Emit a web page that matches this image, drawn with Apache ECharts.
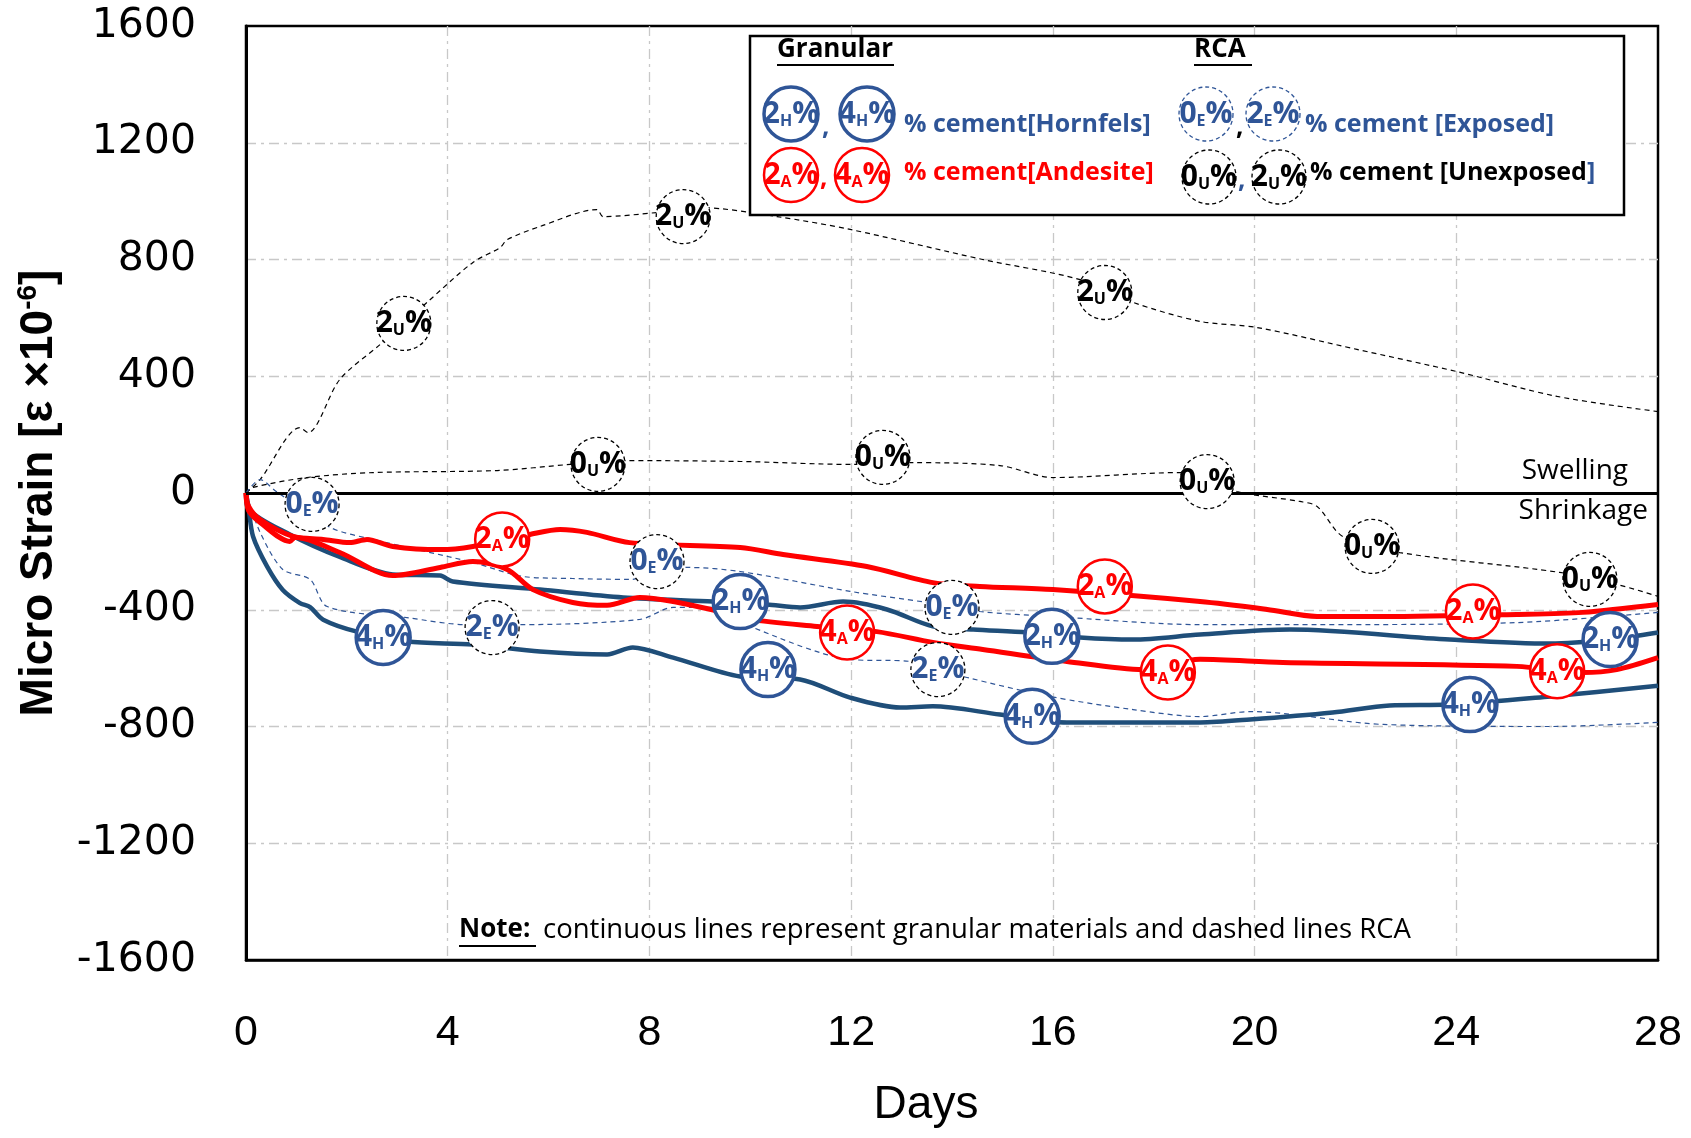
<!DOCTYPE html>
<html>
<head>
<meta charset="utf-8">
<script src="https://cdn.jsdelivr.net/npm/echarts@6/dist/echarts.min.js"></script>
<style>
html,body{margin:0;padding:0;background:#fff}
#chart{width:1691px;height:1138px}
</style>
</head>
<body>
<div id="chart"></div>
<script>
// [day, micro strain]
var strain2U = [[0,0],[0.28,46],[1.07,224],[1.23,207],[1.86,389],[2.66,509],[3.59,653],[4.5,790],[5.04,841],[5.18,868],[5.83,913],[6.96,971],[7.08,947],[8.15,961],[9.0,978],[10.53,947],[11.98,903],[14.61,800],[16.54,731],[17.59,653],[18.92,588],[20.05,567],[22.03,492],[24.01,416],[26.0,331],[28,279]];
var strain0U = [[0,0],[0.14,19],[1.21,53],[2.52,70],[4.98,77],[6.43,98],[7.56,111],[9.8,108],[11.98,98],[13.23,104],[14.95,94],[16.0,53],[18.52,70],[19.65,5],[20.9,-29],[21.24,-46],[21.75,-149],[22.88,-204],[26.05,-272],[27.18,-313],[28,-354]];
var strain0E = [[0,0],[0.28,46],[0.6,5],[1.67,-118],[2.52,-159],[4.5,-238],[5.49,-286],[6.48,-293],[7.61,-296],[8.75,-255],[9.8,-269],[11.98,-337],[13.5,-375],[14.55,-406],[16.0,-423],[18.92,-451],[21.24,-451],[25.2,-444],[28,-409]];
var strain2E = [[0,0],[0.28,-135],[0.73,-262],[1.27,-296],[1.61,-389],[3.19,-427],[4.38,-451],[5.43,-451],[7.81,-433],[8.47,-392],[9.26,-392],[9.99,-457],[11.98,-570],[13.17,-577],[14.3,-632],[15.94,-697],[17.59,-742],[18.92,-766],[19.91,-749],[22.55,-793],[25.86,-800],[28,-786]];
var strain2H = [[0,0],[0.05,-55],[0.87,-142],[1.86,-219],[2.91,-279],[3.85,-283],[4.1,-303],[5.83,-331],[7.48,-358],[9.26,-372],[10.33,-382],[10.99,-392],[11.84,-372],[12.71,-399],[13.62,-457],[14.42,-468],[15.49,-478],[16.54,-495],[17.59,-502],[18.92,-485],[20.7,-468],[23.87,-502],[25.86,-516],[27.05,-502],[28,-478]];
var strain4H = [[0,0],[0.05,-50],[0.14,-149],[0.42,-252],[0.73,-332],[1.07,-377],[1.27,-391],[1.53,-434],[2.2,-475],[3.19,-509],[4.5,-519],[5.83,-543],[7.16,-553],[7.67,-529],[8.47,-564],[9.8,-629],[10.99,-639],[11.98,-701],[12.97,-735],[13.62,-731],[14.95,-759],[16.28,-786],[18.92,-786],[19.91,-776],[21.55,-752],[22.68,-728],[23.87,-725],[25.86,-697],[28,-660]];
var strain2A = [[0,0],[0.05,-45],[0.28,-91],[0.93,-149],[1.53,-159],[2.06,-170],[2.4,-159],[2.91,-183],[3.85,-194],[4.5,-183],[5.63,-142],[6.23,-125],[6.76,-135],[7.61,-170],[9.8,-187],[10.65,-211],[12.31,-252],[13.62,-307],[14.55,-320],[16.0,-331],[18.92,-372],[20.25,-399],[21.24,-423],[22.55,-423],[25.2,-416],[26.51,-409],[28,-382]];
var strain4A = [[0,0],[0.05,-60],[0.28,-101],[0.87,-166],[0.97,-152],[1.86,-204],[2.91,-283],[3.85,-255],[4.5,-235],[5.18,-262],[5.69,-331],[6.48,-375],[7.16,-385],[7.81,-358],[8.47,-372],[9.46,-409],[9.99,-433],[11.32,-457],[12.51,-475],[13.62,-512],[14.61,-536],[16.28,-577],[17.79,-605],[18.92,-570],[20.56,-581],[25.2,-594],[26.51,-615],[27.18,-605],[28,-564]];

// label badge positions on the curves
var mark2U = [[3.13,581],[8.67,947],[17.03,687]];
var mark0U = [[6.98,98],[12.63,122],[19.06,39],[22.33,-183],[26.65,-296]];
var mark0E = [[1.31,-39],[8.15,-235],[14.0,-392]];
var mark2E = [[4.88,-461],[13.72,-605]];
var mark2H = [[9.8,-372],[15.98,-491],[27.05,-502]];
var mark4H = [[2.72,-495],[10.35,-605],[15.59,-765],[24.27,-725]];
var mark2A = [[5.08,-159],[17.03,-320],[24.33,-406]];
var mark4A = [[11.92,-478],[18.28,-615],[26.0,-611]];

var BLUE_LINE = '#1F4E79';
var BLUE = '#2F5597';
var RED = '#FF0000';
var BADGE_FONT = '"Open Sans", sans-serif';

function lineSeries(name, data, color, width, dashed) {
	return {
		name: name,
		type: 'line',
		data: data,
		smooth: 0.3,
		symbol: 'none',
		silent: true,
		z: dashed ? 3 : 4,
		lineStyle: {color: color, width: width, type: dashed ? [5, 4] : 'solid'}
	};
}

function badgeRich(textColor, key) {
	var r = {};
	r.n = {fontSize: 30, fontWeight: 'bold', fontFamily: BADGE_FONT};
	r.s = {fontSize: 16, fontWeight: 'bold', fontFamily: BADGE_FONT, padding: [14, 0, 0, 0]};
	r.n[key] = textColor;
	r.s[key] = textColor;
	return r;
}

function badgeSeries(data, num, sub, textColor, borderColor, borderWidth, dashed) {
	return {
		type: 'scatter',
		data: data,
		symbol: 'circle',
		symbolSize: 54,
		silent: true,
		z: 10,
		itemStyle: {color: '#fff', opacity: 1, borderColor: borderColor, borderWidth: borderWidth, borderType: dashed ? [4, 3] : 'solid'},
		label: {
			show: true,
			position: 'inside',
			formatter: '{n|' + num + '}{s|' + sub + '}{n|%}',
			rich: badgeRich(textColor, 'color')
		}
	};
}

function legendBadge(cx, cy, num, sub, textColor, stroke, lw, dashed) {
	return [
		{type: 'circle', z: 21, shape: {cx: cx, cy: cy, r: 27}, style: {fill: '#fff', stroke: stroke, lineWidth: lw, lineDash: dashed ? [4, 3] : null}},
		{type: 'text', z: 22, x: cx, y: cy, style: {
			text: '{n|' + num + '}{s|' + sub + '}{n|%}',
			align: 'center', verticalAlign: 'middle', textAlign: 'center', textVerticalAlign: 'middle',
			rich: badgeRich(textColor, 'fill')
		}}
	];
}

function legendText(x, y, text, color, size, weight) {
	return {type: 'text', z: 22, x: x, y: y, style: {
		text: text, fill: color, font: (weight || 'bold') + ' ' + size + 'px "Open Sans", sans-serif',
		align: 'left', verticalAlign: 'middle', textAlign: 'left', textVerticalAlign: 'middle'
	}};
}

function underline(x1, x2, y) {
	return {type: 'line', z: 22, shape: {x1: x1, y1: y, x2: x2, y2: y}, style: {stroke: '#000', lineWidth: 2}};
}

var chart = echarts.init(document.getElementById('chart'));

var gridLine = {show: true, showMinLine: false, showMaxLine: false, lineStyle: {color: '#c8c8c8', width: 1.3, type: [10, 5, 3, 5]}};

var zeroLine = lineSeries('0U', strain0U, '#000', 1.2, true);
zeroLine.markLine = {
	symbol: 'none', silent: true, label: {show: false},
	lineStyle: {color: '#000', width: 3, type: 'solid'},
	data: [{yAxis: 0}]
};

var legendItems = [
	{type: 'rect', z: 20, shape: {x: 750, y: 36, width: 874, height: 179}, style: {fill: '#fff', stroke: '#000', lineWidth: 2.5}},
	legendText(777, 50, 'Granular', '#000', 26),
	underline(777, 894, 65),
	legendText(1194, 50, 'RCA', '#000', 26),
	underline(1194, 1252, 65),
	legendText(822, 128, ',', BLUE, 26),
	legendText(904, 125, '% cement[Hornfels]', BLUE, 25),
	legendText(820, 179, ',', RED, 26),
	legendText(904, 173, '% cement[Andesite]', RED, 25),
	legendText(1236, 128, ',', '#000', 26),
	legendText(1305, 125, '% cement [Exposed]', BLUE, 25),
	legendText(1238, 181, ',', BLUE, 26),
	{type: 'text', z: 22, x: 1310, y: 173, style: {
		text: '{k|% cement [Unexposed}{b|]}',
		align: 'left', verticalAlign: 'middle', textAlign: 'left', textVerticalAlign: 'middle',
		rich: {
			k: {fontSize: 25, fontWeight: 'bold', fill: '#000', fontFamily: BADGE_FONT},
			b: {fontSize: 25, fontWeight: 'bold', fill: BLUE, fontFamily: BADGE_FONT}
		}
	}}
].concat(
	legendBadge(791, 114, '2', 'H', BLUE, BLUE, 3.5, false),
	legendBadge(867, 114, '4', 'H', BLUE, BLUE, 3.5, false),
	legendBadge(791, 175, '2', 'A', RED, RED, 2.5, false),
	legendBadge(862, 175, '4', 'A', RED, RED, 2.5, false),
	legendBadge(1206, 114, '0', 'E', BLUE, BLUE, 1.3, true),
	legendBadge(1273, 114, '2', 'E', BLUE, BLUE, 1.3, true),
	legendBadge(1209, 177, '0', 'U', '#000', '#000', 1.3, true),
	legendBadge(1279, 177, '2', 'U', '#000', '#000', 1.3, true)
);

var otherText = [
	legendText(459, 930, 'Note:', '#000', 26),
	underline(459, 536, 946),
	legendText(543, 930, 'continuous lines represent granular materials and dashed lines RCA', '#000', 27.5, 'normal'),
	{type: 'text', z: 22, x: 1628, y: 471, style: {text: 'Swelling', fill: '#000', font: '28px "Open Sans", sans-serif', align: 'right', verticalAlign: 'middle', textAlign: 'right', textVerticalAlign: 'middle'}},
	{type: 'text', z: 22, x: 1648, y: 511, style: {text: 'Shrinkage', fill: '#000', font: '28px "Open Sans", sans-serif', align: 'right', verticalAlign: 'middle', textAlign: 'right', textVerticalAlign: 'middle'}}
];

chart.setOption({
	backgroundColor: '#fff',
	animation: false,
	grid: {left: 246, right: 33, top: 26, bottom: 178, containLabel: false, outerBoundsMode: 'none', show: true, borderColor: '#000', borderWidth: 2.5},
	xAxis: {
		type: 'value', min: 0, max: 28, interval: 4,
		name: 'Days', nameLocation: 'middle', nameGap: 122,
		nameTextStyle: {fontSize: 46, fontFamily: '"Liberation Sans Narrow", sans-serif', color: '#000', padding: [0, 52, 0, 0]},
		axisLine: {onZero: false, lineStyle: {color: '#000', width: 2.5}},
		axisTick: {show: false},
		axisLabel: {fontSize: 43, fontFamily: '"Liberation Sans Narrow", sans-serif', color: '#000', margin: 52},
		splitLine: gridLine
	},
	yAxis: {
		type: 'value', min: -1600, max: 1600, interval: 400,
		name: '{t|Micro Strain [ε ×10}{sup|-6}{t|]}', nameLocation: 'middle', nameGap: 182, nameRotate: 90,
		nameTextStyle: {
			rich: {
				t: {fontSize: 46, fontWeight: 'bold', fontFamily: '"Liberation Sans Narrow", sans-serif', color: '#000'},
				sup: {fontSize: 28, fontWeight: 'bold', fontFamily: '"Liberation Sans Narrow", sans-serif', color: '#000', padding: [0, 0, 22, 0]}
			}
		},
		axisLine: {show: true, lineStyle: {color: '#000', width: 3}},
		axisTick: {show: false},
		axisLabel: {fontSize: 41, fontFamily: '"DejaVu Sans", sans-serif', color: '#000', margin: 50, formatter: function (v) { return String(v); }},
		splitLine: gridLine
	},
	series: [
		lineSeries('2U', strain2U, '#000', 1.2, true),
		zeroLine,
		lineSeries('0E', strain0E, BLUE, 1.2, true),
		lineSeries('2E', strain2E, BLUE, 1.2, true),
		lineSeries('2H', strain2H, BLUE_LINE, 4.5, false),
		lineSeries('4H', strain4H, BLUE_LINE, 4.5, false),
		lineSeries('2A', strain2A, RED, 5, false),
		lineSeries('4A', strain4A, RED, 5, false),
		badgeSeries(mark2U, '2', 'U', '#000', '#000', 1.3, true),
		badgeSeries(mark0U, '0', 'U', '#000', '#000', 1.3, true),
		badgeSeries(mark0E, '0', 'E', BLUE, '#000', 1.3, true),
		badgeSeries(mark2E, '2', 'E', BLUE, '#000', 1.3, true),
		badgeSeries(mark2H, '2', 'H', BLUE, BLUE, 3.5, false),
		badgeSeries(mark4H, '4', 'H', BLUE, BLUE, 3.5, false),
		badgeSeries(mark2A, '2', 'A', RED, RED, 2.5, false),
		badgeSeries(mark4A, '4', 'A', RED, RED, 2.5, false)
	],
	graphic: legendItems.concat(otherText)
});
</script>
</body>
</html>
